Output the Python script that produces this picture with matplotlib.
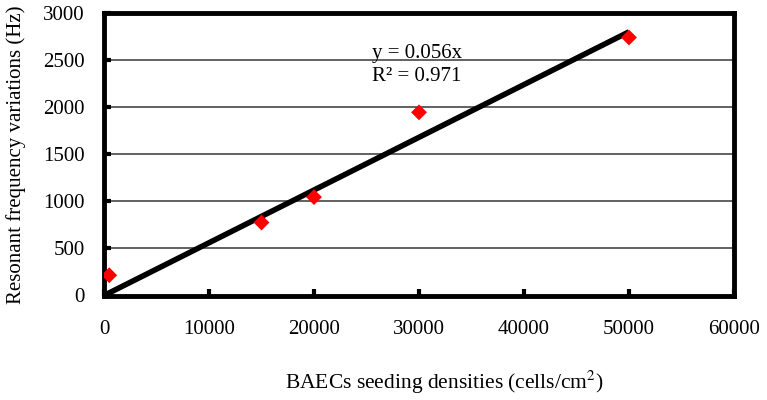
import matplotlib
matplotlib.use("Agg")
import matplotlib.pyplot as plt
import numpy as np

density = [500, 15000, 20000, 30000, 50000]
freq_var = [215, 775, 1045, 1945, 2740]
slope = 0.056
fit_x = [0, 50000]
eq_text = "y = 0.056x\nR² = 0.971"

plt.rcParams['font.family'] = ['Liberation Serif', 'DejaVu Serif']
plt.rcParams['mathtext.fontset'] = 'stix'

fig = plt.figure(figsize=(7.67, 4.0), dpi=100)
ax = fig.add_axes([104/767, 1-295.5/400, (734-104)/767, (295.5-13)/400])

ax.set_xlim(0, 60000)
ax.set_ylim(0, 3000)
ax.set_yticks(np.arange(0, 3001, 500))
ax.set_xticks(np.arange(0, 60001, 10000))
ax.yaxis.grid(True, color='#555555', linewidth=1.3)
ax.set_axisbelow(True)

fx = np.array(fit_x)
ax.plot(fx, slope * fx, color='black', linewidth=4, solid_capstyle='butt', zorder=3)
ax.scatter(density, freq_var, marker='D', s=65, color='#ff0000', edgecolors='none', zorder=4)

for sp in ax.spines.values():
    sp.set_linewidth(3.5)
    sp.set_color('black')

ax.tick_params(axis='both', direction='in', length=5, width=3, labelsize=15)
ax.tick_params(axis='x', pad=18)
ax.tick_params(axis='y', pad=14)

ax.text(25500, 2450, eq_text, fontsize=15, ha='left', va='center', linespacing=1.3)

ax.set_ylabel('Resonant frequency variations (Hz)', fontsize=15, labelpad=12)
ax.set_xlabel('BAECs seeding densities (cells/cm$^2$)', fontsize=15.5)
ax.xaxis.set_label_coords(0.541, -0.258)

fig.savefig('out.png', dpi=100)
